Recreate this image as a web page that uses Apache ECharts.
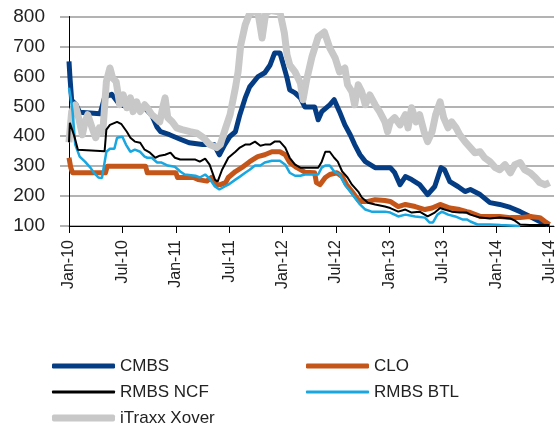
<!DOCTYPE html>
<html lang="en">
<head>
    <meta charset="UTF-8">
    <title>Spreads</title>
    <script src="https://cdn.jsdelivr.net/npm/echarts@6/dist/echarts.min.js"></script>
    <style>
        body { margin: 0; background: #fff; }
        #main { width: 559px; height: 425px; }
    </style>
</head>
<body>
<div id="main"></div>
<script>
    // x = months since Jan-10, y = spread (bp)
    var tickLabels = ['Jan-10', 'Jul-10', 'Jan-11', 'Jul-11', 'Jan-12', 'Jul-12', 'Jan-13', 'Jul-13', 'Jan-14', 'Jul-14'];
    var tickMonths = [0, 6, 12, 18, 24, 30, 36, 42, 48, 54];

    var cmbs = [[0,650],[0.1,600],[0.3,520],[0.8,505],[1.2,480],[3.5,475],[4.0,530],[4.8,540],[5.7,505],[6.5,500],[7.6,500],[8.5,495],[9.3,470],[9.9,430],[10.3,415],[11.3,405],[12.5,390],[13.5,378],[15.0,372],[16.3,372],[16.9,338],[17.5,372],[18.1,400],[18.7,415],[19.2,472],[19.8,528],[20.3,565],[21.2,598],[22.0,612],[22.6,638],[23.1,678],[23.7,678],[24.0,648],[24.5,595],[24.8,555],[25.4,545],[26.0,528],[26.5,498],[27.6,498],[28.0,455],[28.4,482],[29.3,505],[29.8,522],[30.4,482],[31.0,438],[31.6,405],[32.1,372],[32.7,338],[33.3,315],[34.4,295],[36.1,295],[36.6,278],[37.2,238],[37.8,265],[38.5,255],[39.4,238],[40.3,205],[41.1,232],[41.8,295],[42.2,288],[42.8,248],[43.7,232],[44.5,215],[45.1,222],[46.2,205],[47.3,178],[48.4,172],[49.6,162],[50.7,148],[51.8,132],[52.9,115],[53.8,105]];

    var clo = [[0,328],[0.2,295],[0.4,278],[4.1,278],[4.3,300],[8.6,300],[8.8,278],[12.0,278],[12.2,262],[14.0,262],[14.5,255],[15.5,250],[16.0,262],[16.5,238],[17.0,238],[17.6,245],[17.9,262],[18.7,282],[19.4,295],[20.3,315],[21.2,332],[22.0,338],[22.8,348],[23.7,348],[24.3,338],[24.8,312],[25.6,295],[26.5,280],[27.6,278],[27.8,245],[28.2,238],[28.8,262],[29.3,272],[30.1,278],[30.7,265],[31.2,238],[31.8,215],[32.5,188],[32.9,182],[33.6,182],[34.4,188],[35.5,185],[36.1,182],[37.0,165],[37.8,172],[38.9,165],[40.0,155],[40.8,160],[41.7,172],[42.8,160],[43.9,155],[44.7,148],[45.1,145],[46.2,132],[47.3,132],[48.4,132],[49.6,128],[50.7,128],[51.8,132],[52.9,128],[53.5,115],[54.0,105]];

    var rmbsNcf = [[0,380],[0.1,445],[0.6,400],[1.0,355],[1.2,350],[4.0,350],[4.2,422],[4.6,438],[5.4,448],[5.9,440],[6.5,415],[6.9,395],[7.4,382],[8.0,378],[8.5,355],[9.1,345],[9.7,328],[10.2,335],[10.8,338],[11.4,345],[11.9,328],[12.5,322],[14.2,322],[14.7,315],[15.3,325],[15.8,305],[16.4,255],[16.7,248],[17.2,288],[17.9,328],[18.7,348],[19.2,362],[19.8,372],[20.3,372],[20.9,382],[21.5,368],[22.0,372],[22.6,372],[23.1,382],[23.7,382],[24.3,362],[24.8,328],[25.4,305],[26.0,295],[28.0,295],[28.4,315],[28.8,348],[29.3,348],[29.8,328],[30.2,315],[30.7,282],[31.3,262],[31.8,238],[32.5,215],[32.9,195],[33.6,178],[34.4,172],[35.5,165],[36.1,160],[37.0,148],[37.8,155],[38.5,145],[39.4,148],[40.3,132],[41.1,145],[41.7,160],[42.2,155],[43.0,148],[43.9,145],[44.7,145],[45.1,138],[46.2,128],[47.3,125],[48.4,128],[49.6,125],[50.1,118],[50.7,105],[51.8,103],[54.0,103]];

    var rmbsBtl = [[0,562],[0.2,528],[0.4,482],[0.7,372],[1.2,332],[1.8,315],[2.4,295],[2.8,278],[3.3,262],[3.7,260],[3.9,265],[4.2,348],[4.6,358],[5.1,358],[5.4,395],[6.0,398],[6.4,372],[6.9,348],[7.4,355],[8.0,348],[8.5,332],[8.8,328],[9.3,328],[9.9,312],[10.4,312],[11.1,302],[11.9,298],[12.5,282],[13.0,272],[14.2,268],[14.7,262],[15.3,272],[15.8,258],[16.4,232],[16.9,222],[17.5,232],[17.9,238],[18.7,255],[19.2,265],[19.8,278],[20.3,288],[20.9,302],[21.5,302],[22.0,312],[22.8,318],[23.7,318],[24.3,305],[24.8,278],[25.4,268],[26.0,268],[26.5,272],[28.0,272],[28.4,295],[28.8,302],[29.3,302],[29.8,282],[30.4,272],[31.0,238],[31.6,215],[32.1,195],[32.7,172],[33.3,155],[34.0,148],[35.5,148],[36.1,145],[37.0,132],[37.8,138],[38.9,132],[40.0,128],[40.5,112],[40.9,112],[41.4,138],[41.9,148],[42.6,138],[43.4,132],[44.2,122],[44.7,122],[45.1,115],[45.9,105],[47.3,105],[48.5,103],[50.7,100]];

    var itraxx = [[0,380],[0.3,482],[0.7,505],[1.0,472],[1.5,405],[1.8,448],[2.1,472],[2.6,428],[3.0,395],[3.4,428],[3.8,415],[4.2,582],[4.6,628],[4.9,595],[5.3,582],[5.7,505],[6.1,538],[6.5,495],[6.9,528],[7.2,482],[7.6,515],[8.0,482],[8.5,505],[8.8,495],[9.3,472],[9.7,462],[10.2,448],[10.6,505],[10.8,528],[11.1,462],[11.6,448],[12.1,428],[12.7,422],[13.6,415],[14.4,410],[15.1,395],[15.8,372],[16.6,362],[17.0,372],[17.6,428],[18.1,472],[18.7,562],[19.0,615],[19.3,705],[19.8,772],[20.3,810],[21.2,820],[21.7,728],[22.1,810],[22.6,820],[23.7,815],[24.2,745],[24.5,672],[24.8,638],[25.4,615],[26.0,578],[26.3,522],[26.7,588],[27.3,665],[28.0,732],[28.7,748],[29.3,695],[29.9,662],[30.4,615],[31.0,628],[31.3,572],[31.8,548],[32.1,505],[32.5,572],[32.9,548],[33.3,505],[33.8,538],[34.4,505],[34.9,482],[35.5,448],[35.8,415],[36.1,448],[36.6,462],[37.2,438],[37.8,472],[38.1,428],[38.5,495],[39.0,448],[39.4,472],[39.9,415],[40.3,382],[40.8,415],[41.2,472],[41.7,515],[42.1,462],[42.6,428],[43.0,448],[43.5,428],[43.9,405],[44.5,382],[45.1,362],[45.6,345],[46.2,348],[46.7,328],[47.3,315],[47.9,295],[48.4,288],[49.0,305],[49.6,278],[50.1,305],[50.7,312],[51.2,288],[51.8,278],[52.4,262],[52.9,245],[53.5,238],[54.0,245]];

    var font = 'Liberation Sans, Arial, sans-serif';

    function legendItem(name, left, top, h) {
        return {
            data: [name], left: left, top: top, icon: 'roundRect',
            itemWidth: 63, itemHeight: h, itemGap: 0,
            textStyle: {fontFamily: font, fontSize: 17, color: '#222', lineHeight: 20}
        };
    }

    var myChart = echarts.init(document.getElementById('main'));
    var option = {
        animation: false,
        grid: {left: 69, right: 5, top: 16.5, bottom: 199},
        legend: [
            legendItem('CMBS', 47, 351, 5),
            legendItem('CLO', 301, 351, 5),
            legendItem('RMBS NCF', 47, 377, 3),
            legendItem('RMBS BTL', 301, 377, 3),
            legendItem('iTraxx Xover', 47, 403, 7)
        ],
        xAxis: {
            type: 'value', min: 0, max: 54.5,
            splitLine: {show: false},
            axisLine: {lineStyle: {color: '#000', width: 1}},
            axisTick: {show: true, length: 7, customValues: tickMonths, lineStyle: {color: '#000'}},
            axisLabel: {
                customValues: tickMonths, rotate: 90, margin: 14,
                fontFamily: font, fontSize: 16, color: '#222',
                formatter: function (v) { return tickLabels[Math.round(v / 6)]; }
            }
        },
        yAxis: {
            type: 'value', min: 100, max: 800, interval: 100,
            splitLine: {show: true, lineStyle: {color: '#9a9a9a', width: 1.5}},
            axisLine: {show: true, lineStyle: {color: '#000', width: 1}},
            axisTick: {show: true, length: 9, lineStyle: {color: '#9a9a9a', width: 1.5}},
            axisLabel: {margin: 24, fontFamily: font, fontSize: 19, color: '#222'}
        },
        series: [
            {name: 'CMBS', type: 'line', data: cmbs, showSymbol: false, color: '#053d85',
                lineStyle: {width: 5, color: '#053d85', join: 'round'}},
            {name: 'iTraxx Xover', type: 'line', data: itraxx, showSymbol: false, color: '#c8c8c8',
                lineStyle: {width: 7, color: '#c8c8c8', join: 'round'}},
            {name: 'CLO', type: 'line', data: clo, showSymbol: false, color: '#c5561a',
                lineStyle: {width: 5, color: '#c5561a', join: 'round'}},
            {name: 'RMBS BTL', type: 'line', data: rmbsBtl, showSymbol: false, color: '#18a7e0',
                lineStyle: {width: 2.5, color: '#18a7e0'}},
            {name: 'RMBS NCF', type: 'line', data: rmbsNcf, showSymbol: false, color: '#000',
                lineStyle: {width: 2, color: '#000'}}
        ]
    };
    myChart.setOption(option);
</script>
</body>
</html>
